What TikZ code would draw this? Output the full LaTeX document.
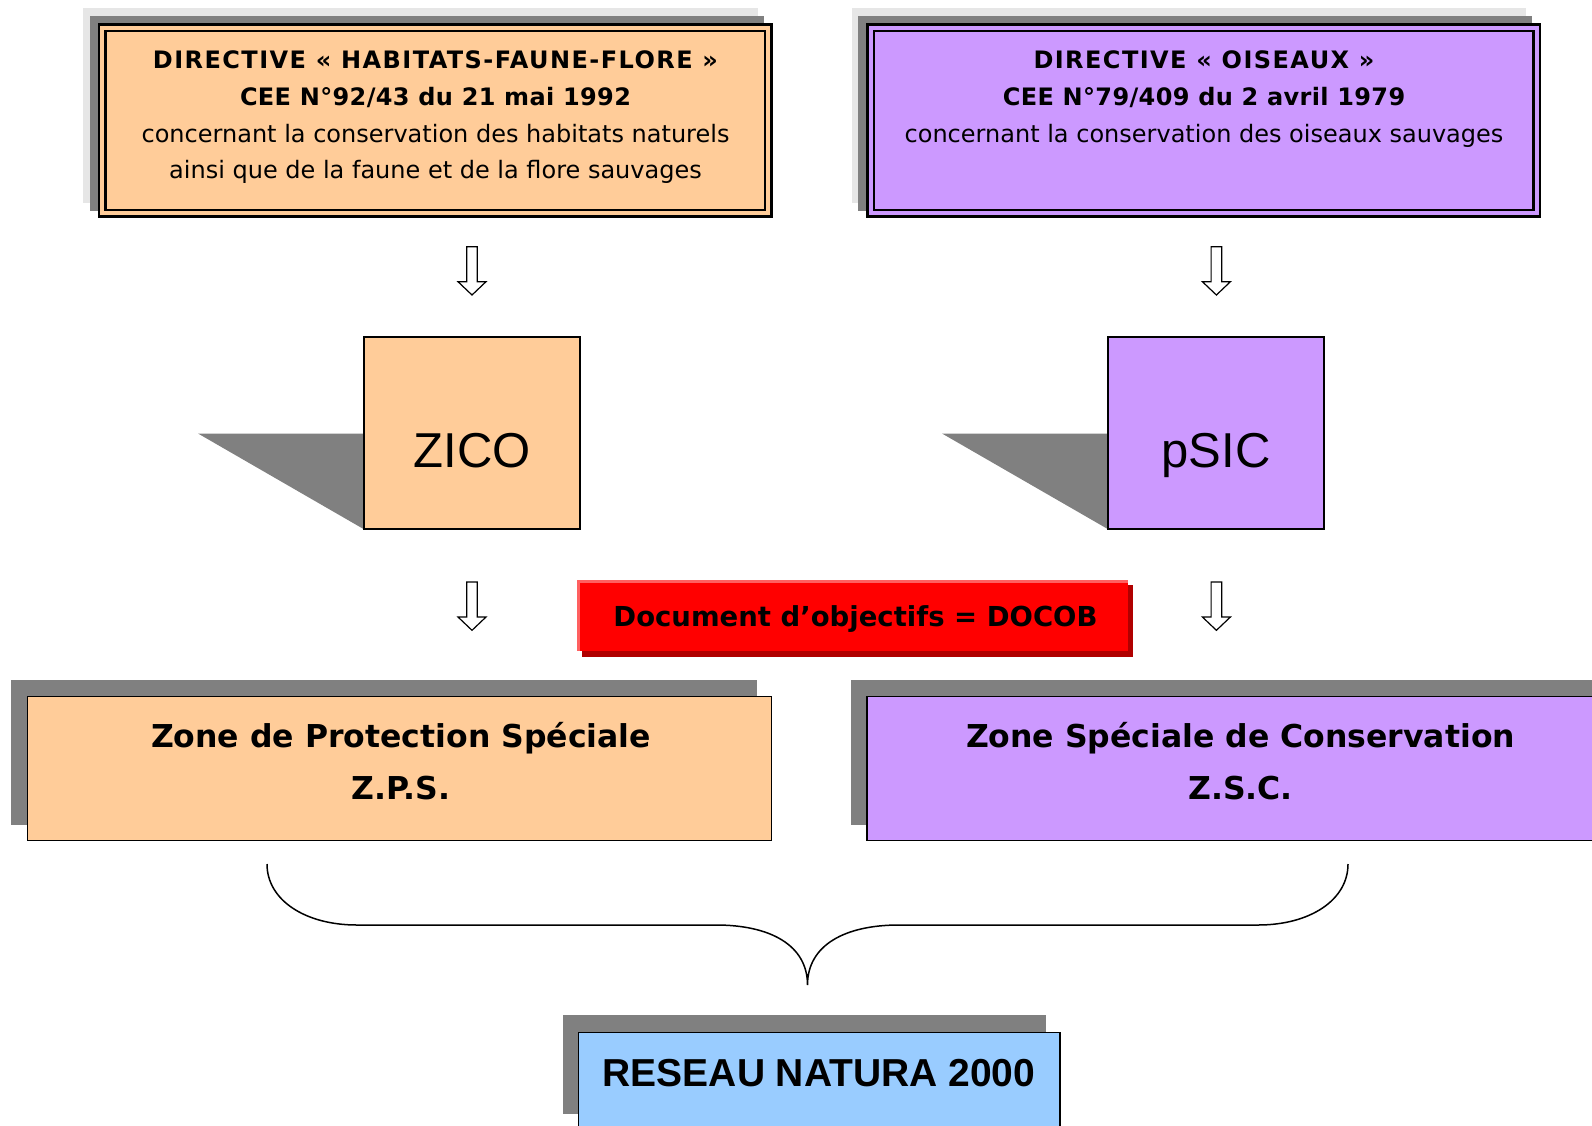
\documentclass[tikz,border=0pt]{standalone}
\usepackage{fontspec}
\setmainfont{DejaVu Sans}
\newfontfamily\arialfont{Liberation Sans}
\usetikzlibrary{calc}

\definecolor{peach}{HTML}{FFCC99}
\definecolor{lilac}{HTML}{CC99FF}
\definecolor{skyblue}{HTML}{99CCFF}
\definecolor{shadowgrey}{HTML}{808080}
\definecolor{haze}{HTML}{E6E6E6}
\definecolor{redlight}{HTML}{FF6060}
\definecolor{reddark}{HTML}{B00000}

\tikzset{
  every node/.style={inner sep=0pt, outer sep=0pt},
  directive/.style={rectangle, draw=black, line width=2.6pt, double distance=3.8pt,
    minimum width=666pt, minimum height=185.6pt},
  sitebox/.style={rectangle, draw=black, line width=2pt,
    minimum width=216pt, minimum height=192pt},
  zonebox/.style={rectangle, draw=black, line width=1.5pt,
    minimum width=744pt, minimum height=144pt},
  docobbox/.style={rectangle, fill=red, minimum width=548.3pt, minimum height=68.5pt},
  netbox/.style={rectangle, draw=black, line width=1.5pt, fill=skyblue,
    minimum width=481.3pt, minimum height=127.4pt},
  headtext/.style={align=center, font=\fontsize{24}{36.7}\selectfont},
  zonetext/.style={align=center, font=\bfseries\fontsize{31.5}{52}\selectfont},
  sitetext/.style={anchor=base, font=\arialfont\fontsize{49}{58}\selectfont},
  hollow arrow/.pic={
    \draw[fill=white, line width=1.2pt, line join=miter]
      (-5.3,0) -- (5.3,0) -- (5.3,35) -- (14,35) -- (0,48.3)
      -- (-14,35) -- (-5.3,35) -- cycle;}
}

\begin{document}
\begin{tikzpicture}[x=1pt, y=-1pt]
\useasboundingbox (0,0) rectangle (1592,1125);
\clip (0,0) rectangle (1592,1125);

% --- directive boxes with layered shadows
\fill[haze] (83,8) rectangle (757.5,203);
\fill[shadowgrey] (89.5,15.5) rectangle (763.5,211);
\node[directive, fill=peach, double=peach] (hab) at (435.25,120.5) {};
\node[headtext] (habtxt) at (435.5,117.5)
  {{\bfseries\addfontfeatures{LetterSpace=6}DIRECTIVE « HABITATS-FAUNE-FLORE »}\\
   {\bfseries\addfontfeatures{LetterSpace=1.5}CEE N°92/43 du 21 mai 1992}\\
   concernant la conservation des habitats naturels\\
   ainsi que de la faune et de la flore sauvages};

\fill[haze] (851.5,8) rectangle (1526,203);
\fill[shadowgrey] (858,15.5) rectangle (1532,211);
\node[directive, fill=lilac, double=lilac] (ois) at (1203.75,120.5) {};
\node[headtext] (oistxt) at (1204,99)
  {{\bfseries\addfontfeatures{LetterSpace=6}DIRECTIVE « OISEAUX »}\\
   {\bfseries\addfontfeatures{LetterSpace=1.5}CEE N°79/409 du 2 avril 1979}\\
   concernant la conservation des oiseaux sauvages};

% --- first row of arrows
\pic (arrhab) at (472,246.7) {hollow arrow};
\pic (arrois) at (1216.4,246.7) {hollow arrow};

% --- ZICO and pSIC with their wedge shadows
\fill[shadowgrey] (198,433.5) -- (363.5,433.5) -- (363.5,529) -- cycle;
\node[sitebox, fill=peach] (zico) at (471.6,433) {};
\node[sitetext] (zicotxt) at (472,467.5) {ZICO};

\fill[shadowgrey] (942,433.5) -- (1107.7,433.5) -- (1107.7,529) -- cycle;
\node[sitebox, fill=lilac] (psic) at (1215.8,433) {};
\node[sitetext] (psictxt) at (1216,467.5) {pSIC};

% --- second row of arrows
\pic (arrzico) at (472,582) {hollow arrow};
\pic (arrpsic) at (1216.4,582) {hollow arrow};

% --- DOCOB banner
\fill[reddark] (582,585) rectangle (1133,656.5);
\fill[redlight] (576.7,579.5) rectangle (1128,651);
\node[docobbox] (docob) at (853.85,616.75) {};
\node[anchor=base, font=\bfseries\fontsize{27.5}{33}\selectfont] (docobtxt) at (855.5,626.5)
  {Document d’objectifs = DOCOB};

% --- protected zones
\fill[shadowgrey] (11.2,680) rectangle (757.4,825.4);
\node[zonebox, fill=peach] (zps) at (399.5,768.6) {};
\node[zonetext] (zpstxt) at (401,761.5) {Zone de Protection Spéciale\\Z.P.S.};

\fill[shadowgrey] (851,680) rectangle (1597,825.4);
\node[zonebox, fill=lilac] (zsc) at (1239,768.6) {};
\node[zonetext] (zsctxt) at (1240.6,761.5) {Zone Spéciale de Conservation\\Z.S.C.};

% --- brace gathering both zones
\coordinate (braceL) at (267,864);
\coordinate (braceTip) at (807.5,985);
\coordinate (braceR) at (1348,864);
\draw[line width=1.5pt]
  (braceL) .. controls (267,900) and (305,925) .. (357,925) -- (716,925)
  .. controls (770,925) and (807.5,945) .. (braceTip)
  .. controls (807.5,945) and (845,925) .. (899,925) -- (1258,925)
  .. controls (1310,925) and (1348,900) .. (braceR);

% --- network box
\fill[shadowgrey] (562.5,1015) rectangle (1045.8,1114);
\node[netbox] (natura) at (819.35,1096.3) {};
\node[anchor=base, font=\arialfont\bfseries\fontsize{39}{47}\selectfont] (naturatxt) at (819,1086)
  {RESEAU NATURA 2000};
\end{tikzpicture}
\end{document}
